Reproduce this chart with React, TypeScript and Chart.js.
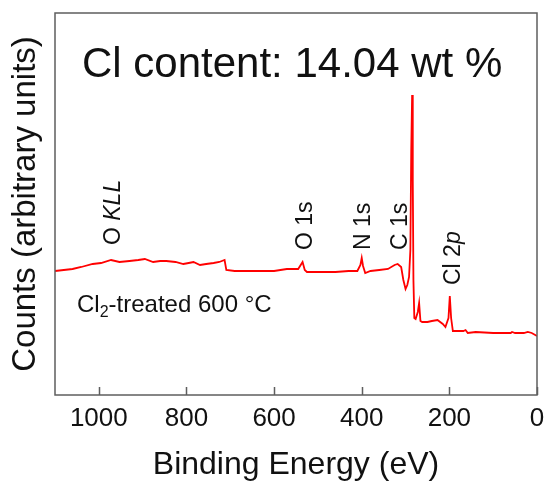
import React, { useEffect, useRef } from "react";
import { Chart, registerables } from "chart.js";

Chart.register(...registerables);

const FONT = "'Liberation Sans', Arial, Helvetica, sans-serif";

// Binding energy (eV) and counts (arbitrary units)
const energies = [
  1100, 1080, 1060, 1040, 1014, 995, 972, 953, 930, 910, 895, 876, 860, 846, 825, 807, 795, 784, 769, 755,
  738, 725, 713, 709, 690, 650, 600, 571, 545, 535, 530, 525, 500, 460, 430, 410, 403, 400, 397, 392,
  380, 360, 340, 325, 318, 310, 305, 300, 296, 292, 289, 287, 285, 283.5, 282, 280, 277, 272, 269, 266,
  262, 250, 240, 227, 215, 209, 202, 199, 196, 192, 180, 168, 163, 158, 140, 100, 60, 57, 50,
  30, 21, 12, 0,
];
const counts = [
  124, 125, 126, 128, 131, 132, 135, 133, 134, 135, 136, 133, 134, 134, 133, 131, 132, 133, 130, 131,
  132, 133, 135, 125, 124, 124, 124, 126, 126, 133, 125, 123, 123, 123, 124, 124, 130, 137, 129, 122,
  124, 125, 126, 130, 131, 128, 115, 106, 110, 118, 145, 245, 300, 215, 115, 77, 76, 83, 92, 74,
  73, 73, 74, 75, 71, 68, 77, 99, 77, 64, 64, 64, 65, 62, 63, 62, 62, 63, 62,
  62, 63, 62, 59,
];

const xTickValues = [1000, 800, 600, 400, 200, 0];

const titleText = "Cl content: 14.04 wt %";
const sampleText = ["Cl", "2", "-treated 600 °C"];

// peak annotations: label pieces (text, italic)
const peakNames: [string, boolean][][] = [
  [["O ", false], ["KLL", true]],
  [["O 1s", false]],
  [["N 1s", false]],
  [["C 1s", false]],
  [["Cl 2", false], ["p", true]],
];
const peakEnergies = [971, 531, 399, 314, 195];
const peakLabelBase = [150, 145, 145, 145, 110];

export default function App() {
  const ref = useRef<HTMLCanvasElement | null>(null);

  useEffect(() => {
    if (!ref.current) return;
    const overlay = {
      id: "overlay",
      afterDraw(chart: any) {
        const ctx = chart.ctx as CanvasRenderingContext2D;
        const a = chart.chartArea;
        const xs = chart.scales.x;
        const ys = chart.scales.y;
        ctx.save();
        // frame
        ctx.strokeStyle = "#5e5e5e";
        ctx.lineWidth = 1.5;
        ctx.strokeRect(a.left, a.top, a.right - a.left, a.bottom - a.top);
        // inward ticks
        ctx.beginPath();
        for (const v of xTickValues) {
          const px = Math.round(xs.getPixelForValue(v)) + 0.5;
          ctx.moveTo(px, a.bottom);
          ctx.lineTo(px, a.bottom - 8);
        }
        ctx.stroke();

        // title
        ctx.fillStyle = "#111";
        ctx.font = `42px ${FONT}`;
        ctx.textAlign = "left";
        ctx.textBaseline = "alphabetic";
        ctx.fillText(titleText, a.left + 27, a.top + 64);

        // sample label
        let sx = a.left + 22;
        const sy = a.top + 299;
        ctx.font = `24px ${FONT}`;
        ctx.fillText(sampleText[0], sx, sy);
        sx += ctx.measureText(sampleText[0]).width;
        ctx.font = `16px ${FONT}`;
        ctx.fillText(sampleText[1], sx, sy + 5);
        sx += ctx.measureText(sampleText[1]).width;
        ctx.font = `24px ${FONT}`;
        ctx.fillText(sampleText[2], sx, sy);

        // peak labels (rotated)
        peakNames.forEach((parts, i) => {
          const px = xs.getPixelForValue(peakEnergies[i]);
          const py = ys.getPixelForValue(peakLabelBase[i]);
          ctx.save();
          ctx.translate(px + 8, py);
          ctx.rotate(-Math.PI / 2);
          let off = 0;
          for (const [t, it] of parts) {
            ctx.font = `${it ? "italic " : ""}23px ${FONT}`;
            ctx.fillText(t, off, 0);
            off += ctx.measureText(t).width;
          }
          ctx.restore();
        });
        ctx.restore();
      },
    };

    const chart = new Chart(ref.current, {
      type: "line",
      data: {
        datasets: [
          {
            data: energies.map((e, i) => ({ x: e, y: counts[i] })),
            borderColor: "#ff0000",
            borderWidth: 1.8,
            pointRadius: 0,
            tension: 0,
            fill: false,
          },
        ],
      },
      options: {
        animation: false,
        responsive: true,
        maintainAspectRatio: false,
        layout: { padding: { top: 13, right: 10, left: 0, bottom: 0 } },
        plugins: { legend: { display: false }, tooltip: { enabled: false } },
        scales: {
          x: {
            type: "linear",
            reverse: true,
            min: 0,
            max: 1100,
            grid: { display: false },
            border: { display: false },
            afterBuildTicks: (s: any) => {
              s.ticks = xTickValues.map((v) => ({ value: v }));
            },
            afterFit: (s: any) => {
              s.height = 90;
              s.paddingLeft = 0;
              s.paddingRight = 0;
            },
            ticks: {
              autoSkip: false,
              maxRotation: 0,
              padding: 0,
              color: "#111",
              font: { family: FONT, size: 26 },
              callback: (v: any) => String(v),
            },
            title: {
              display: true,
              text: "Binding Energy (eV)",
              color: "#111",
              font: { family: FONT, size: 32 },
              padding: { top: 0, bottom: 1 },
            },
          },
          y: {
            min: 0,
            max: 382,
            grid: { display: false },
            border: { display: false },
            ticks: { display: false },
            afterFit: (s: any) => {
              s.width = 55;
              s.paddingTop = 0;
              s.paddingBottom = 0;
            },
            title: {
              display: true,
              text: "Counts (arbitrary units)",
              color: "#111",
              font: { family: FONT, size: 33 },
              padding: { top: 6, bottom: 0 },
            },
          },
        },
      },
      plugins: [overlay],
    });
    return () => chart.destroy();
  }, []);

  return (
    <div style={{ position: "absolute", left: 0, top: 0, width: 547, height: 485, background: "#fff" }}>
      <canvas ref={ref} />
    </div>
  );
}
